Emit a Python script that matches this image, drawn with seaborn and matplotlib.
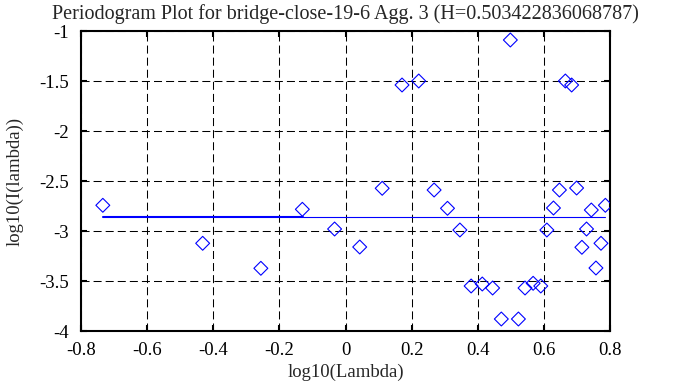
import matplotlib
matplotlib.use("Agg")
import matplotlib.pyplot as plt
import seaborn as sns
import numpy as np
import pandas as pd

title = "Periodogram Plot for bridge-close-19-6 Agg. 3 (H=0.503422836068787)"
x_label = "log10(Lambda)"
y_label = "log10(I(lambda))"

log_lambda = [-0.734, -0.432, -0.256, -0.1305, -0.033, 0.043, 0.111, 0.171, 0.2215,
              0.268, 0.3085, 0.346, 0.380, 0.4137, 0.445, 0.4713, 0.4986, 0.523,
              0.543, 0.5675, 0.5906, 0.609, 0.629, 0.647, 0.665, 0.684, 0.699,
              0.715, 0.729, 0.7435, 0.7575, 0.7727, 0.786]
log_I = [-2.743, -3.123, -3.373, -2.783, -2.98, -3.16, -2.573, -1.54, -1.50,
         -2.59, -2.773, -2.99, -3.55, -3.53, -3.57, -3.88, -1.09, -3.88,
         -3.57, -3.523, -3.55, -2.99, -2.77, -2.59, -1.50, -1.54, -2.57,
         -3.163, -2.98, -2.79, -3.37, -3.123, -2.743]

fit_x_thick = [-0.734, -0.13]
fit_y_thick = [-2.857, -2.857]
fit_x_thin = [-0.13, 0.786]
fit_y_thin = [-2.858, -2.858]

x_ticks = [-0.8, -0.6, -0.4, -0.2, 0, 0.2, 0.4, 0.6, 0.8]
x_tick_labels = ["-0.8", "-0.6", "-0.4", "-0.2", "0", "0.2", "0.4", "0.6", "0.8"]
y_ticks = [-4, -3.5, -3, -2.5, -2, -1.5, -1]
y_tick_labels = ["-4", "-3.5", "-3", "-2.5", "-2", "-1.5", "-1"]

sns.set_style("ticks")
plt.rcParams['font.family'] = ['Liberation Serif', 'DejaVu Serif']
FS = 13.5

fig = plt.figure(figsize=(6.88, 3.87), dpi=100)
ax = fig.add_axes([81/688, 1-331/387, (610-81)/688, 300/387])

df = pd.DataFrame({"x": log_lambda, "y": log_I})
sns.scatterplot(data=df, x="x", y="y", marker="D", s=50, facecolors="none",
                edgecolors="#0000ff", linewidth=0.8, ax=ax, zorder=3)
sns.lineplot(x=fit_x_thick, y=fit_y_thick, color="#0000ff", linewidth=1.5, ax=ax, zorder=2)
sns.lineplot(x=fit_x_thin, y=fit_y_thin, color="#0000ff", linewidth=0.8, ax=ax, zorder=2)

ax.set_xlim(-0.8, 0.8)
ax.set_ylim(-4, -1)
ax.set_xticks(x_ticks)
ax.set_xticklabels(x_tick_labels)
ax.set_yticks(y_ticks)
ax.set_yticklabels(y_tick_labels)

ax.grid(True, color="black", linewidth=0.75, linestyle=(0, (7.7, 3.9)))
ax.set_axisbelow(True)
for sp in ax.spines.values():
    sp.set_visible(True)
    sp.set_linewidth(1.5)
    sp.set_color("black")
ax.tick_params(direction="in", length=4.5, width=1.5, top=True, right=True,
               labelsize=FS, colors="black")
ax.tick_params(axis="x", pad=8)
ax.tick_params(axis="y", pad=9)

ax.set_xlabel(x_label, fontsize=FS, labelpad=3)
ax.set_ylabel(y_label, fontsize=FS, labelpad=11)
ax.set_title(title, fontsize=14.5, pad=9)

fig.savefig("out.png", dpi=100)
